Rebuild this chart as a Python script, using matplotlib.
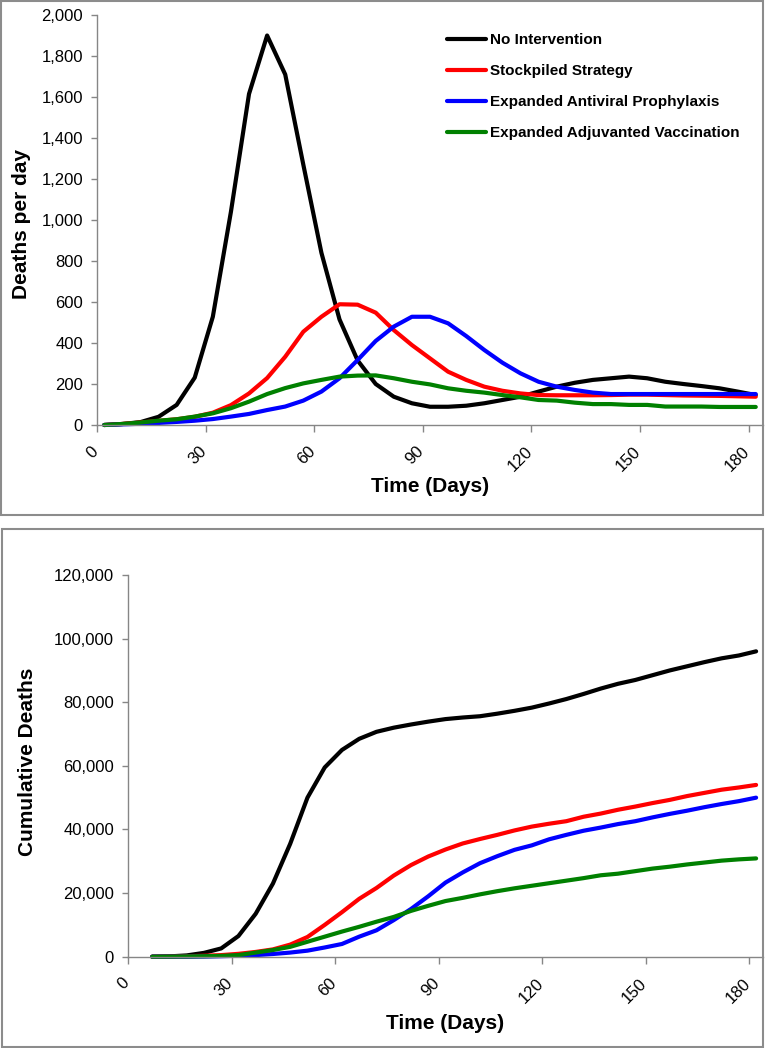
import matplotlib
matplotlib.use('Agg')
import matplotlib.pyplot as plt
import matplotlib.transforms as mtransforms
from matplotlib.patches import Rectangle
from matplotlib.ticker import FuncFormatter

plt.rcParams['font.family'] = ['Liberation Sans', 'DejaVu Sans']

#=== data: deaths per day (every 5 days) ===
days_daily = [2, 7, 12, 17, 22, 27, 32, 37, 42, 47, 52, 57, 62, 67, 72, 77, 82, 87, 92,
              97, 102, 107, 112, 117, 122, 127, 132, 137, 142, 147, 152, 157, 162, 167,
              172, 177, 182]
none_daily = [0, 5, 14, 40, 98, 231, 528, 1040, 1615, 1900, 1710, 1270, 840, 515, 315,
              200, 138, 106, 89, 89, 94, 106, 122, 138, 163, 187, 206, 220, 228, 236,
              228, 211, 200, 190, 179, 163, 146]
stock_daily = [0, 5, 12, 20, 28, 40, 60, 97, 154, 229, 333, 455, 528, 589, 587, 548, 463,
               390, 325, 260, 220, 187, 167, 154, 146, 145, 145, 145, 146, 148, 148, 146,
               144, 143, 142, 140, 138]
antiviral_daily = [0, 3, 6, 10, 15, 21, 29, 41, 54, 73, 90, 119, 163, 228, 317, 410, 480,
                   528, 528, 496, 434, 366, 304, 252, 211, 187, 171, 158, 151, 151, 151,
                   151, 151, 151, 151, 151, 151]
vaccine_daily = [0, 5, 12, 21, 28, 41, 57, 82, 114, 151, 180, 203, 220, 236, 241, 242, 228,
                 211, 198, 179, 167, 158, 146, 135, 122, 119, 109, 102, 102, 98, 98, 90,
                 90, 90, 88, 88, 88]

#=== data: cumulative deaths ===
days_cum = [7, 12, 17, 22, 27, 32, 37, 42, 47, 52, 57, 62, 67, 72, 77, 82, 87, 92, 97,
            102, 107, 112, 117, 122, 127, 132, 137, 142, 147, 152, 157, 162, 167, 172,
            177, 182]
none_cum = [0, 100, 400, 1200, 2600, 6500, 13500, 23000, 35500, 50000, 59500, 65000, 68500,
            70700, 72000, 73000, 73900, 74700, 75200, 75600, 76400, 77300, 78300, 79600,
            81000, 82600, 84300, 85800, 87000, 88500, 90000, 91300, 92600, 93800, 94700,
            96000]
stock_cum = [0, 50, 150, 300, 500, 900, 1500, 2300, 3800, 6200, 10000, 14000, 18200, 21600,
             25500, 28800, 31500, 33700, 35600, 37000, 38300, 39700, 40900, 41800, 42600,
             44000, 45000, 46200, 47200, 48300, 49300, 50500, 51500, 52500, 53200, 54000]
antiviral_cum = [0, 0, 0, 50, 150, 300, 500, 850, 1300, 1900, 2900, 4000, 6300, 8300, 11500,
                 15000, 19000, 23300, 26500, 29400, 31600, 33600, 35000, 36900, 38300,
                 39600, 40600, 41700, 42600, 43800, 44900, 45900, 47000, 48000, 48900,
                 50000]
vaccine_cum = [0, 30, 80, 150, 250, 500, 1300, 2100, 3100, 4700, 6300, 7900, 9400, 11000,
               12500, 14400, 16000, 17500, 18500, 19600, 20600, 21500, 22300, 23100, 23900,
               24700, 25600, 26100, 26900, 27700, 28300, 29000, 29600, 30200, 30600, 30900]

labels = ['No Intervention', 'Stockpiled Strategy', 'Expanded Antiviral Prophylaxis',
          'Expanded Adjuvanted Vaccination']
colors = ['#000000', '#ff0000', '#0000ff', '#008000']
x_ticks = [0, 30, 60, 90, 120, 150, 180]

W, H = 766, 1048
fig = plt.figure(figsize=(W / 100, H / 100), dpi=100)

# grey frames round the two charts
fig.patches.append(Rectangle((1 / W, 1 - 515 / H), 762 / W, 514 / H, transform=fig.transFigure,
                             fill=False, edgecolor='#8c8c8c', lw=1.5))
fig.patches.append(Rectangle((2 / W, 1 - 1047 / H), 761 / W, 518 / H, transform=fig.transFigure,
                             fill=False, edgecolor='#8c8c8c', lw=1.5))

ax1 = fig.add_axes([97 / W, 1 - 425 / H, 666 / W, 410 / H])
ax2 = fig.add_axes([128 / W, 1 - 956.7 / H, 635 / W, 381.7 / H])

#=== top chart ===
for y, c, lab in zip([none_daily, stock_daily, antiviral_daily, vaccine_daily], colors, labels):
    ax1.plot(days_daily, y, color=c, lw=3, label=lab, solid_capstyle='round')
ax1.set_ylim(0, 2000)
ax1.set_yticks(range(0, 2001, 200))
ax1.set_ylabel('Deaths per day', fontsize=15, fontweight='bold')
ax1.yaxis.set_label_coords(-0.099, 0.49)
ax1.xaxis.set_label_coords(0.5, -0.128)
leg = ax1.legend(loc='upper left', bbox_to_anchor=(0.5255, 0.955), frameon=False,
                 prop={'size': 11, 'weight': 'bold'}, handlelength=2.55, handletextpad=0.28,
                 labelspacing=1.1, borderpad=0, borderaxespad=0)
for h in leg.get_lines():
    h.set_linewidth(3)

#=== bottom chart ===
for y, c in zip([none_cum, stock_cum, antiviral_cum, vaccine_cum], colors):
    ax2.plot(days_cum, y, color=c, lw=3, solid_capstyle='round')
ax2.set_ylim(0, 120000)
ax2.set_yticks(range(0, 120001, 20000))
ax2.set_ylabel('Cumulative Deaths', fontsize=15, fontweight='bold')
ax2.yaxis.set_label_coords(-0.143, 0.51)
ax2.xaxis.set_label_coords(0.5, -0.151)

shift = mtransforms.ScaledTranslation(4 / 100, 0, fig.dpi_scale_trans)
for ax in [ax1, ax2]:
    ax.set_xlim(0, 184)
    ax.set_xticks(x_ticks)
    ax.set_xlabel('Time (Days)', fontsize=15, fontweight='bold')
    ax.yaxis.set_major_formatter(FuncFormatter(lambda v, p: '{:,.0f}'.format(v)))
    for s in ['top', 'right']:
        ax.spines[s].set_visible(False)
    for s in ['left', 'bottom']:
        ax.spines[s].set_color('#868686')
        ax.spines[s].set_linewidth(1)
    ax.tick_params(axis='y', length=4.5, width=1, color='#868686', labelsize=12, pad=5.5)
    ax.tick_params(axis='x', length=5, width=1, color='#868686', labelsize=12, pad=8.5,
                   labelrotation=45)
    for t in ax.get_xticklabels():
        t.set_ha('right')
        t.set_va('top')
        t.set_transform(t.get_transform() + shift)
    for l in ax.get_lines():
        l.set_clip_on(False)

fig.savefig('out.png', dpi=100)
